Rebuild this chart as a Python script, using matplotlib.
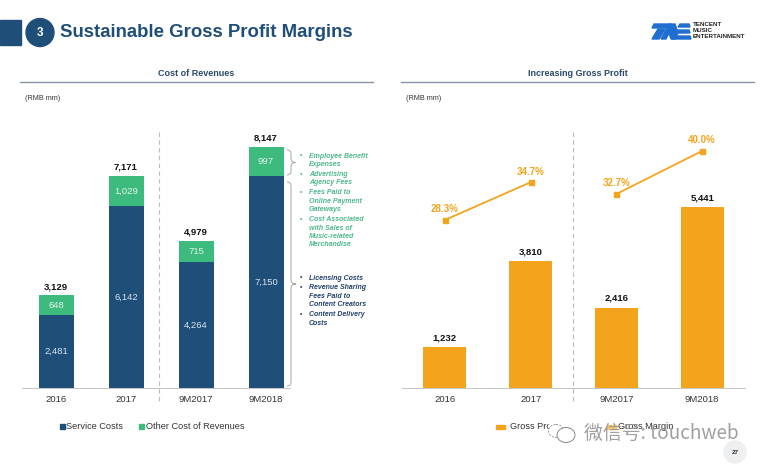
import matplotlib
matplotlib.use("Agg")
import matplotlib.pyplot as plt
from matplotlib.patches import Polygon, Circle, Rectangle, Ellipse
from matplotlib.path import Path
from matplotlib.patches import PathPatch

plt.rcParams['font.family'] = ['Liberation Sans', 'DejaVu Sans']

# data
periods = ["2016", "2017", "9M2017", "9M2018"]
service_costs = [2481, 6142, 4264, 7150]
other_costs = [648, 1029, 715, 997]
total_costs = [3129, 7171, 4979, 8147]
gross_profit = [1232, 3810, 2416, 5441]
gross_margin = [28.3, 34.7, 32.7, 40.0]

other_notes = ["Employee Benefit\nExpenses", "Advertising\nAgency Fees", "Fees Paid to\nOnline Payment\nGateways",
               "Cost Associated\nwith Sales of\nMusic-related\nMerchandise"]
service_notes = ["Licensing Costs", "Revenue Sharing\nFees Paid to\nContent Creators", "Content Delivery\nCosts"]

NAVY = "#1f4e79"
GREEN = "#3dbb7f"
ORANGE = "#f4a41c"
W, H = 764, 466

fig = plt.figure(figsize=(W / 100, H / 100), dpi=100)


def px_axes(x0, top, x1, bottom):
    # axes placed by pixel box, y measured from the top of the image
    ax = fig.add_axes([x0 / W, 1 - bottom / H, (x1 - x0) / W, (bottom - top) / H])
    ax.patch.set_visible(False)
    for s in ax.spines.values():
        s.set_visible(False)
    ax.set_yticks([])
    ax.set_xlim(-0.5, 3.5)
    ax.set_xticks(range(4))
    ax.set_xticklabels(periods, fontsize=6.8, color="#333333")
    ax.tick_params(axis="x", length=0, pad=5)
    return ax


# left chart
ax1 = px_axes(21, 130, 301, 388)
ax1.set_ylim(0, 8147 * 258 / 241)
ax1.bar(range(4), service_costs, width=0.5, color=NAVY)
ax1.bar(range(4), other_costs, width=0.5, bottom=service_costs, color=GREEN)
for i in range(4):
    ax1.text(i, service_costs[i] / 2, f"{service_costs[i]:,}", ha="center", va="center", color="#d8e4f0", fontsize=6.8)
    ax1.text(i, service_costs[i] + other_costs[i] / 2, f"{other_costs[i]:,}", ha="center", va="center",
             color="#e4f5ec", fontsize=6.8)
    ax1.annotate(f"{total_costs[i]:,}", (i, total_costs[i]), xytext=(0, 3), textcoords="offset points",
                 ha="center", va="bottom", fontsize=6.8, fontweight="bold", color="#111111")

# right chart
ax2 = px_axes(402, 130, 745, 388)
ax2.set_ylim(0, 5441 * 258 / 181)
ax2.bar(range(4), gross_profit, width=0.5, color=ORANGE)
for i in range(4):
    ax2.annotate(f"{gross_profit[i]:,}", (i, gross_profit[i]), xytext=(0, 3.5), textcoords="offset points",
                 ha="center", va="bottom", fontsize=6.8, fontweight="bold", color="#111111")

# margin line sits on its own scale, broken between 2017 and 9M2017
ax3 = px_axes(402, 130, 745, 388)
ax3.set_xticks([])
ax3.set_ylim(28.3 - (388 - 220) / 5.9, 28.3 + (220 - 130) / 5.9)
for a, b in [(0, 2), (2, 4)]:
    ax3.plot(range(a, b), gross_margin[a:b], color=ORANGE, lw=1.3, marker="s", ms=3.6)
for i in range(4):
    ax3.annotate(f"{gross_margin[i]:.1f}%", (i, gross_margin[i]), xytext=(0, 4), textcoords="offset points",
                 ha="center", va="bottom", fontsize=7, fontweight="bold", color=ORANGE)

# overlay in image pixels for the slide furniture
ov = fig.add_axes([0, 0, 1, 1])
ov.set_xlim(0, W)
ov.set_ylim(H, 0)
ov.axis("off")

ov.add_patch(Rectangle((0, 20), 21, 25, color=NAVY))
ov.add_patch(Circle((40, 32.5), 14, color=NAVY))
ov.text(40, 33, "3", color="white", fontsize=8.5, fontweight="bold", ha="center", va="center")
ov.text(60, 32.5, "Sustainable Gross Profit Margins", color=NAVY, fontsize=13.4, fontweight="bold", va="center")

for x0, x1, title in [(20, 373, "Cost of Revenues"), (401, 754, "Increasing Gross Profit")]:
    ov.text((x0 + x1) / 2, 73, title, color="#2a4a6b", fontsize=6.5, fontweight="bold", ha="center", va="center")
    ov.plot([x0, x1], [81.5, 81.5], color="#8795a8", lw=1)
    ov.text(x0 + 5, 98, "(RMB mm)", color="#333333", fontsize=5.2, va="center")

# baselines and dividers
ov.plot([22, 290], [388, 388], color="#c4c4c4", lw=0.7)
ov.plot([402, 745], [388, 388], color="#c4c4c4", lw=0.7)
ov.plot([159, 159], [132, 404], color="#bcbcbc", lw=0.8, ls=(0, (4, 3)))
ov.plot([573, 573], [132, 404], color="#bcbcbc", lw=0.8, ls=(0, (4, 3)))


def brace(x, top, bottom):
    mid = (top + bottom) / 2
    verts = [(x, top), (x + 4, top), (x + 4, top + 4), (x + 4, mid - 4), (x + 4, mid), (x + 9, mid),
             (x + 4, mid), (x + 4, mid + 4), (x + 4, bottom - 4), (x + 4, bottom), (x, bottom)]
    codes = [Path.MOVETO, Path.CURVE3, Path.CURVE3, Path.LINETO, Path.CURVE3, Path.CURVE3,
             Path.CURVE3, Path.CURVE3, Path.LINETO, Path.CURVE3, Path.CURVE3]
    ov.add_patch(PathPatch(Path(verts, codes), fc="none", ec="#a5a5a5", lw=0.7))


brace(287, 150, 175)
brace(287, 182, 386)


def notes(items, y, color):
    for item in items:
        ov.text(300, y, "•", color=color, fontsize=5, va="top")
        ov.text(309, y, item, color=color, fontsize=5, fontweight="bold", style="italic", va="top", linespacing=1.25)
        y += 8.6 * (item.count("\n") + 1) + 1.2


notes(other_notes, 152.5, "#4fb88c")
notes(service_notes, 274.5, "#23426a")

# legends
ov.add_patch(Rectangle((60, 424), 4.5, 4.5, color=NAVY))
ov.text(66, 426.5, "Service Costs", fontsize=6.6, color="#333333", va="center")
ov.add_patch(Rectangle((139, 424), 4.5, 4.5, color=GREEN))
ov.text(146, 426.5, "Other Cost of Revenues", fontsize=6.6, color="#333333", va="center")
ov.add_patch(Rectangle((496, 425), 9, 3.5, color=ORANGE))
ov.text(510, 426.5, "Gross Profit", fontsize=6.6, color="#333333", va="center")
ov.add_patch(Rectangle((607, 425), 9, 3.5, color="#f6c873"))
ov.text(618, 426.5, "Gross Margin", fontsize=6.6, color="#333333", va="center")

# logo
logo_blue = "#1f6fd0"
for pts in [[(654, 24), (671, 24), (669, 28), (652, 28)],
            [(658, 29), (665, 29), (659, 39), (652, 39)],
            [(661, 39), (669, 24), (675, 24), (678, 33), (675, 39), (671, 39), (669, 33), (666, 39)],
            [(680, 24), (689, 24), (690, 27), (678, 27)],
            [(677, 30), (689, 30), (690, 33), (675, 33)],
            [(674, 36), (690, 36), (691, 39), (672, 39)]]:
    ov.add_patch(Polygon(pts, color=logo_blue))
for y, line in [(24.7, "TENCENT"), (30.5, "MUSIC"), (36.7, "ENTERTAINMENT")]:
    ov.text(693, y, line, fontsize=4.5, fontweight="bold", color="#222222", va="center")

# page number
ov.add_patch(Circle((735, 452), 11, color="#eeeff1"))
ov.text(735, 452, "27", fontsize=4.6, fontweight="bold", color="#333333", ha="center", va="center")

# watermark: its icon sits on top of the legend text, as in the slide
ov.add_patch(Rectangle((549, 418), 28, 27, color="white", zorder=5))
ov.add_patch(Ellipse((556, 431), 15, 13, fc="white", ec="#777777", lw=0.5, ls=(0, (3, 2)), zorder=6))
ov.add_patch(Ellipse((566, 435), 18, 15, fc="white", ec="#777777", lw=0.6, zorder=7))
ov.text(584, 433, "微信号: touchweb", fontsize=13.6, color="#8f8f8f", alpha=0.85, va="center", zorder=8,
        family=['Noto Sans CJK SC', 'DejaVu Sans'])

fig.savefig("out.png", dpi=100)
